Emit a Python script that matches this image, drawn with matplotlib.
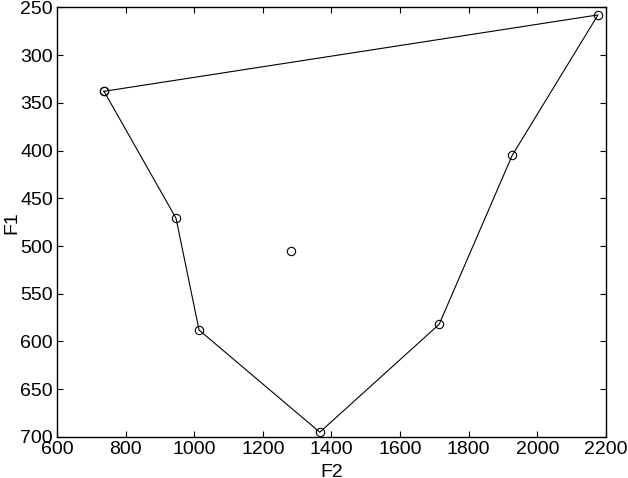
import matplotlib
matplotlib.use('Agg')
import matplotlib.pyplot as plt

# vowel space outline (F2, F1) in Hz
f2_outline = [737, 947, 1014, 1366, 1714, 1927, 2177, 737]
f1_outline = [338, 471, 588, 695, 582, 405, 258, 338]

# centre vowel
f2_centre = [1283]
f1_centre = [505]

plt.rcParams['font.family'] = ['Liberation Sans', 'DejaVu Sans']
plt.rcParams['font.size'] = 14

fig = plt.figure(figsize=(6.28, 4.78), dpi=100)
ax = fig.add_axes([0.0908, 0.0858, 0.874, 0.899])

ax.plot(f2_outline, f1_outline, '-', color='black', lw=0.8,
        marker='o', mfc='none', mec='black', ms=6, mew=0.8)
ax.plot(f2_centre, f1_centre, 'o', mfc='none', mec='black', ms=6, mew=0.8)

ax.set_xlim(600, 2200)
ax.set_ylim(700, 250)
ax.set_xticks(range(600, 2201, 200))
ax.set_yticks(range(250, 701, 50))
ax.tick_params(direction='in', top=True, right=True, length=4, width=0.8, pad=3)
for s in ax.spines.values():
    s.set_linewidth(1.0)

ax.set_xlabel('F2', labelpad=4)
ax.set_ylabel('F1', labelpad=0)

fig.savefig('out.png', dpi=100)
